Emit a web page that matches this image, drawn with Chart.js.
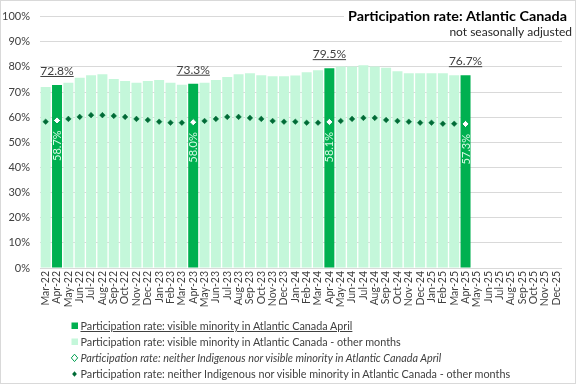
<!DOCTYPE html>
<html><head><meta charset="utf-8">
<script src="https://cdn.jsdelivr.net/npm/chart.js@4/dist/chart.umd.min.js"></script>
<style>
html,body{margin:0;padding:0;background:#fff}
#wrap{position:relative;width:576px;height:384px;overflow:hidden;background:#fff}
#c{position:absolute;left:0;top:0}
#frame{position:absolute;left:0;top:0;width:576px;height:384px;box-sizing:border-box;border:1px solid #d9d9d9;pointer-events:none}
#legend{position:absolute;left:0;top:0;font-family:Lato,"Liberation Sans",Arial,sans-serif;font-size:10.8px;color:#404040}
.row{position:absolute;left:68px;height:14px;line-height:14px;white-space:nowrap}
.mk{position:absolute;left:0;top:0;width:12px;height:14px}
.tx{position:absolute;left:12.5px;top:0}
</style></head>
<body>
<div id="wrap">
<canvas id="c" width="576" height="384"></canvas>
<div id="legend">
  <div class="row" style="top:319px"><svg class="mk" viewBox="0 0 12 14"><rect x="3.5" y="3.5" width="6.5" height="6.5" fill="#00b050"/></svg><span class="tx" style="text-decoration:underline">Participation rate: visible minority in Atlantic Canada April</span></div>
  <div class="row" style="top:335px"><svg class="mk" viewBox="0 0 12 14"><rect x="3.5" y="3.5" width="6.5" height="6.5" fill="#c4f7da"/></svg><span class="tx">Participation rate: visible minority in Atlantic Canada - other months</span></div>
  <div class="row" style="top:351px"><svg class="mk" viewBox="0 0 12 14"><path d="M6.5 3.2 L9.7 6.9 L6.5 10.6 L3.3 6.9 Z" fill="#fff" stroke="#00a050" stroke-width="1"/></svg><span class="tx" style="font-style:italic">Participation rate: neither Indigenous nor visible minority in Atlantic Canada April</span></div>
  <div class="row" style="top:367px"><svg class="mk" viewBox="0 0 12 14"><path d="M6.5 4.3 L8.9 7 L6.5 9.7 L4.1 7 Z" fill="#006b36"/></svg><span class="tx">Participation rate: neither Indigenous nor visible minority in Atlantic Canada - other months</span></div>
</div>
<div id="frame"></div>
</div>
<script>
// ---- data ----
const months = ["Mar-22","Apr-22","May-22","Jun-22","Jul-22","Aug-22","Sep-22","Oct-22","Nov-22","Dec-22",
  "Jan-23","Feb-23","Mar-23","Apr-23","May-23","Jun-23","Jul-23","Aug-23","Sep-23","Oct-23","Nov-23","Dec-23",
  "Jan-24","Feb-24","Mar-24","Apr-24","May-24","Jun-24","Jul-24","Aug-24","Sep-24","Oct-24","Nov-24","Dec-24",
  "Jan-25","Feb-25","Mar-25","Apr-25","May-25","Jun-25","Jul-25","Aug-25","Sep-25","Oct-25","Nov-25","Dec-25"];
const visibleMinority = [72.0,72.8,73.7,75.7,76.7,77.1,75.2,74.4,73.7,74.4,
  74.8,73.7,72.9,73.3,73.7,74.8,76.0,77.1,77.5,76.7,76.3,76.3,
  76.6,77.9,78.7,79.5,80.2,80.2,80.6,80.2,79.7,78.3,77.5,77.5,
  77.5,77.5,76.7,76.7,null,null,null,null,null,null,null,null];
const neitherGroup = [58.2,58.7,59.3,60.1,60.8,60.8,60.5,60.1,59.3,58.9,
  58.2,57.8,57.8,58.0,58.5,59.3,60.1,60.1,59.7,59.3,58.5,58.2,
  58.2,57.8,57.8,58.1,58.5,59.3,59.7,59.7,58.9,58.5,58.2,57.8,
  57.8,57.4,57.4,57.3,null,null,null,null,null,null,null,null];
const yTicks = [0,10,20,30,40,50,60,70,80,90,100];
const titleText = "Participation rate: Atlantic Canada";
const subtitleText = "not seasonally adjusted";

const isApril = m => m.startsWith("Apr");
const aprilBars = visibleMinority.map((v,i)=> isApril(months[i]) ? v : null);
const otherBars = visibleMinority.map((v,i)=> isApril(months[i]) ? null : v);
const aprilPts = neitherGroup.map((v,i)=> isApril(months[i]) ? v : null);
const otherPts = neitherGroup.map((v,i)=> isApril(months[i]) ? null : v);

const FONT = 'Lato, "Liberation Sans", Arial, sans-serif';

const labelPlugin = {
  id:'labels',
  afterDatasetsDraw(chart){
    const ctx = chart.ctx, xs = chart.scales.x, ys = chart.scales.y;
    months.forEach((m,i)=>{
      if (aprilBars[i] == null) return;
      const px = xs.getPixelForValue(i);
      const py = ys.getPixelForValue(aprilBars[i]);
      ctx.save();
      ctx.font = '12px ' + FONT;
      ctx.fillStyle = '#404040';
      ctx.textAlign = 'center';
      ctx.textBaseline = 'alphabetic';
      const t = aprilBars[i].toFixed(1) + '%';
      ctx.fillText(t, px, py - 10);
      const w = ctx.measureText(t).width;
      ctx.fillRect(px - w/2, py - 9, w, 1);
      ctx.restore();
      if (aprilPts[i] != null) {
        const qy = ys.getPixelForValue(aprilPts[i]);
        ctx.save();
        ctx.translate(px, qy + 10);
        ctx.rotate(-Math.PI/2);
        ctx.font = '11px ' + FONT;
        ctx.fillStyle = '#d6fae5';
        ctx.textAlign = 'right';
        ctx.textBaseline = 'middle';
        ctx.fillText(aprilPts[i].toFixed(1) + '%', 0, 0.5);
        ctx.restore();
      }
    });
  },
  afterDraw(chart){
    const ctx = chart.ctx;
    ctx.save();
    ctx.fillStyle = '#fff';
    ctx.fillRect(344, 9, 230, 31);
    ctx.fillStyle = '#000';
    ctx.textAlign = 'right';
    ctx.textBaseline = 'alphabetic';
    ctx.font = 'bold 14px "Liberation Sans Narrow", ' + FONT;
    const tw = ctx.measureText(titleText).width;
    const target = 219;
    ctx.save();
    ctx.translate(567, 21);
    ctx.scale(target / tw, 1);
    ctx.fillText(titleText, 0, 0);
    ctx.restore();
    ctx.fillStyle = '#262626';
    ctx.font = '12px ' + FONT;
    ctx.fillText(subtitleText, 572, 36);
    ctx.restore();
  }
};

new Chart(document.getElementById('c'), {
  type: 'bar',
  data: {
    labels: months,
    datasets: [
      { label:'Participation rate: neither Indigenous nor visible minority in Atlantic Canada April', type:'line', data: aprilPts, showLine:false,
        pointStyle:'rectRot', pointRadius:3.6, pointBackgroundColor:'#ffffff', pointBorderColor:'#00a050', pointBorderWidth:1, order:0 },
      { label:'Participation rate: neither Indigenous nor visible minority in Atlantic Canada - other months', type:'line', data: otherPts, showLine:false,
        pointStyle:'rectRot', pointRadius:2.8, pointBackgroundColor:'#006b36', pointBorderColor:'#006b36', pointBorderWidth:0.5, order:1 },
      { label:'Participation rate: visible minority in Atlantic Canada April', data: aprilBars, backgroundColor:'#00b050',
        grouped:false, barPercentage:0.88, categoryPercentage:1, order:2 },
      { label:'Participation rate: visible minority in Atlantic Canada - other months', data: otherBars, backgroundColor:'#c4f7da',
        grouped:false, barPercentage:0.88, categoryPercentage:1, order:3 }
    ]
  },
  options: {
    responsive:false, animation:false,
    layout:{ padding:{ left:0, right:14, top:8, bottom:66 } },
    plugins:{ legend:{display:false}, tooltip:{enabled:false}, title:{display:false} },
    scales:{
      x:{
        grid:{display:false, drawTicks:false}, border:{display:false},
        ticks:{ autoSkip:false, maxRotation:90, minRotation:90, padding:3, color:'#404040', font:{family:FONT, size:10.5} },
        afterFit(s){ s.height = 50; }
      },
      y:{
        min:0, max:100,
        afterBuildTicks(s){ s.ticks = yTicks.map(v=>({value:v})); },
        grid:{ color:'#d9d9d9', drawTicks:false }, border:{display:false},
        ticks:{ padding:10, color:'#404040', font:{family:FONT, size:11}, callback:v=> v + '%' },
        afterFit(s){ s.width = 40; }
      }
    }
  },
  plugins:[labelPlugin]
});
</script>
</body></html>
